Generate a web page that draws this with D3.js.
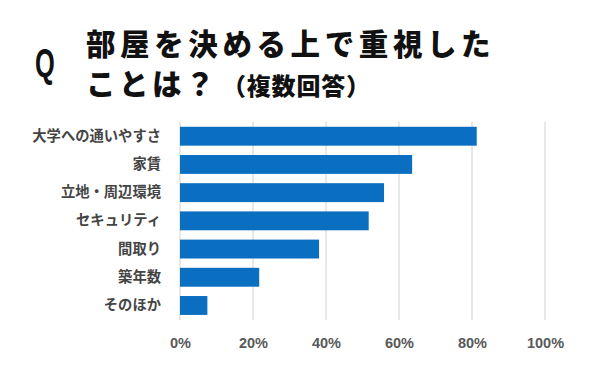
<!DOCTYPE html>
<html>
<head>
<meta charset="utf-8">
<script src="https://cdn.jsdelivr.net/npm/d3@7"></script>
<style>
body{margin:0;background:#fff;}
text{font-family:"Noto Sans CJK JP","Noto Sans",sans-serif;}
</style>
</head>
<body>
<script>
var w=600;
var h=371;

var categories=["大学への通いやすさ","家賃","立地・周辺環境","セキュリティ","間取り","築年数","そのほか"];
var values=[81.3,63.6,55.9,51.7,38.1,21.7,7.5];
var ticks=[0,20,40,60,80,100];

var svg=d3.select("body").append("svg")
	.attr("width",w).attr("height",h);

// タイトル
svg.append("text")
	.attr("x",45).attr("y",77)
	.attr("text-anchor","middle")
	.attr("transform","translate(45,0) scale(0.62,1) translate(-45,0)")
	.style("font-family","'Liberation Sans',sans-serif")
	.style("font-weight","bold").style("font-size","41px")
	.attr("fill","#111")
	.text("Q");

svg.append("text")
	.attr("x",86).attr("y",55)
	.style("font-weight","900").style("font-size","29.5px")
	.style("letter-spacing","4.6px")
	.attr("fill","#111")
	.text("部屋を決める上で重視した");

var t2=svg.append("text")
	.attr("x",86).attr("y",95)
	.style("font-weight","900")
	.attr("fill","#111");
t2.append("tspan").style("font-size","29.5px").style("letter-spacing","3.5px").text("ことは？");
t2.append("tspan").attr("dx",4).style("font-size","24px").style("letter-spacing","0.8px").text("（複数回答）");

var x=d3.scaleLinear().domain([0,100]).range([180,545]);
var y=d3.scaleBand().domain(categories).range([121.7,320])
	.paddingInner(0.33).paddingOuter(0.18);

// グリッド
svg.append("g").selectAll("line")
	.data(ticks)
	.enter()
	.append("line")
	.attr("x1",function(d){ return x(d);})
	.attr("x2",function(d){ return x(d);})
	.attr("y1",121.7).attr("y2",320)
	.attr("stroke","#e0e0e0").attr("stroke-width",1.5);

svg.append("g").selectAll("rect")
	.data(values)
	.enter()
	.append("rect")
	.attr("x",x(0))
	.attr("y",function(d,i){ return y(categories[i]);})
	.attr("width",function(d){ return x(d)-x(0);})
	.attr("height",y.bandwidth())
	.attr("fill","#0b6fc1");

// 軸
var xAxis=svg.append("g")
	.attr("transform","translate(0,333)")
	.call(d3.axisBottom(x).tickValues(ticks).tickSize(0).tickPadding(0)
		.tickFormat(function(d){ return d+"%";}));
xAxis.select(".domain").remove();
xAxis.selectAll("text")
	.attr("dy","1em")
	.style("font-family","'Liberation Sans',sans-serif")
	.style("font-weight","bold")
	.style("font-size","14.5px").attr("fill","#595959");

var yAxis=svg.append("g")
	.attr("transform","translate(161,0)")
	.call(d3.axisLeft(y).tickSize(0).tickPadding(0));
yAxis.select(".domain").remove();
yAxis.selectAll("text")
	.style("font-weight","bold")
	.style("font-size","14.3px").attr("fill","#444");
</script>
</body>
</html>
